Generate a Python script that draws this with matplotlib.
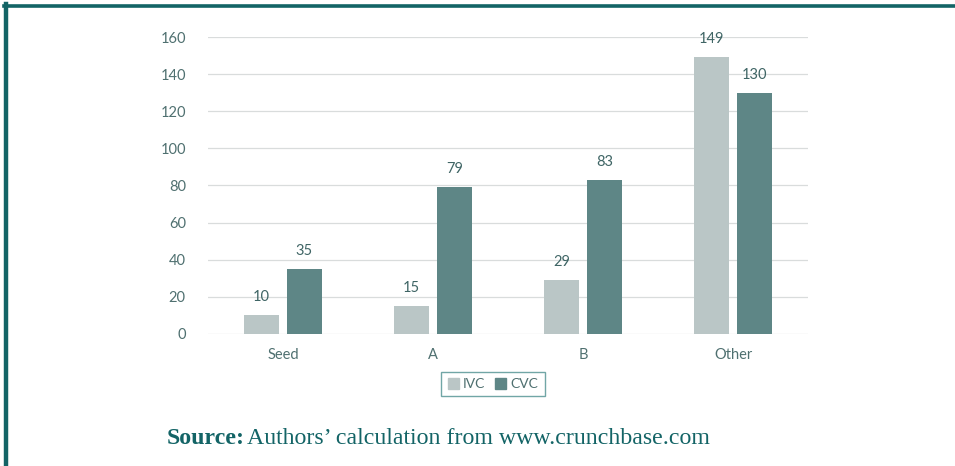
import matplotlib.pyplot as plt
import numpy as np
from matplotlib.lines import Line2D
from matplotlib.patches import Patch

categories = ["Seed", "A", "B", "Other"]
ivc = [10, 15, 29, 149]
cvc = [35, 79, 83, 130]
yticks = [0, 20, 40, 60, 80, 100, 120, 140, 160]

light = "#bac6c6"
dark = "#5e8686"
txt = "#4f7070"
teal = "#136466"

fig = plt.figure(figsize=(9.55, 4.66), dpi=100)
ax = fig.add_axes([0.2178, 0.2833, 0.6283, 0.6373])

x = np.arange(len(categories))
w = 0.235
off = 0.143
b1 = ax.bar(x - off, ivc, w, color=light, zorder=3)
b2 = ax.bar(x + off, cvc, w, color=dark, zorder=3)

for bars, vals in ((b1, ivc), (b2, cvc)):
    for r, v in zip(bars, vals):
        ax.annotate(str(v), (r.get_x() + r.get_width() / 2, v), xytext=(0, 8),
                    textcoords="offset points", ha="center", va="bottom",
                    fontsize=10.5, color="#3f6565", family="Lato")

ax.set_xlim(-0.5, 3.5)
ax.set_ylim(0, 160)
ax.set_yticks(yticks)
ax.set_xticks(x)
ax.set_xticklabels(categories)
for lab in ax.get_xticklabels() + ax.get_yticklabels():
    lab.set_family("Lato")
    lab.set_fontsize(10.5)
    lab.set_color(txt)
ax.tick_params(length=0)
ax.tick_params(axis="y", pad=16)
ax.tick_params(axis="x", pad=10)
ax.grid(axis="y", color="#d9dcdc", lw=0.9, zorder=0)
for s in ax.spines.values():
    s.set_visible(False)

handles = [Patch(color=light), Patch(color=dark)]
leg = fig.legend(handles, ["IVC", "CVC"], loc="center", bbox_to_anchor=(493 / 955, 1 - 384 / 466),
                 ncol=2, frameon=True, fancybox=False, handlelength=0.8, handleheight=0.8,
                 handletextpad=0.3, columnspacing=0.7, borderpad=0.45,
                 prop={"family": "Lato", "size": 10})
leg.get_frame().set_edgecolor("#4e9090")
leg.get_frame().set_linewidth(1.0)
for t in leg.get_texts():
    t.set_color(txt)

# frame lines (left and top)
fig.add_artist(Line2D([6 / 955, 6 / 955], [0, 1 - 4 / 466], color=teal, lw=3.2))
fig.add_artist(Line2D([4 / 955, 1], [1 - 5.5 / 466, 1 - 5.5 / 466], color=teal, lw=2.6))

t1 = fig.text(167 / 955, 1 - 438 / 466, "Source:", family="Liberation Serif", weight="bold",
              fontsize=17.2, color=teal, va="center")
fig.canvas.draw()
bb = t1.get_window_extent()
fig.text(bb.x1 / 955 + 2 / 955, 1 - 438 / 466, "Authors\u2019 calculation from www.crunchbase.com",
         family="Liberation Serif", fontsize=17.2, color=teal, va="center")

fig.savefig("out.png", dpi=100)
